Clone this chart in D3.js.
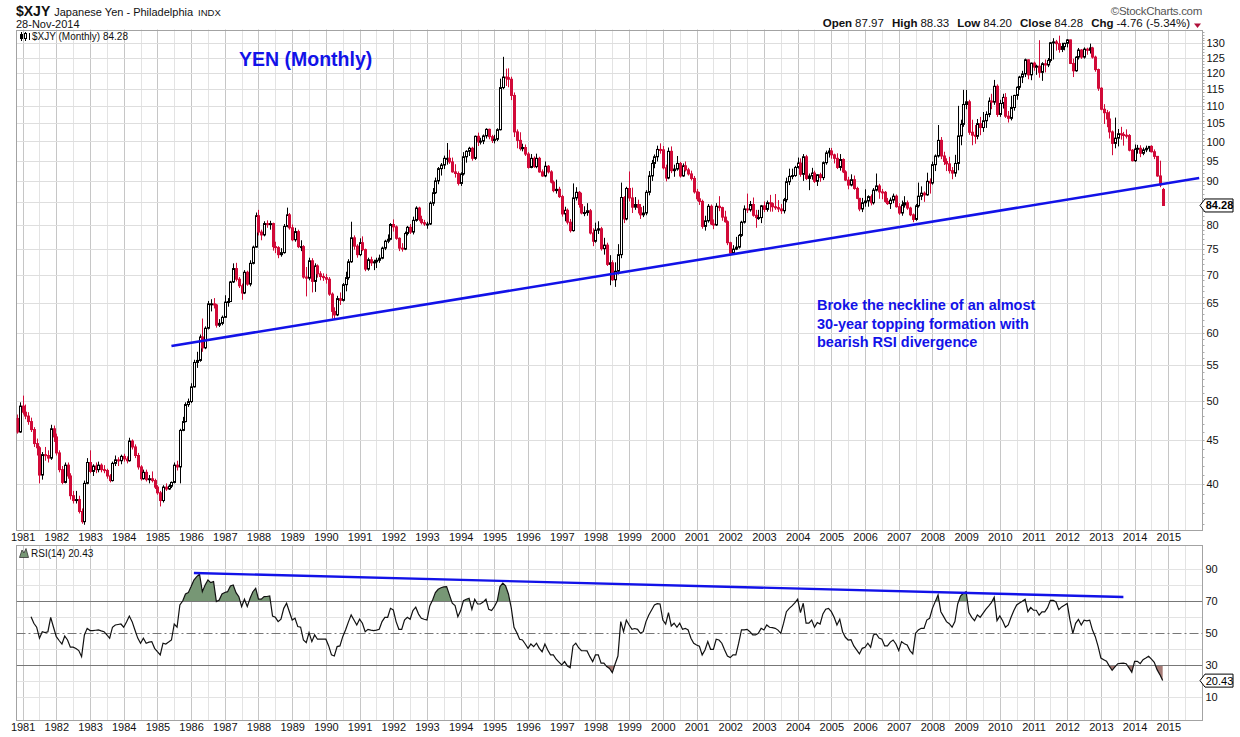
<!DOCTYPE html>
<html>
<head>
<meta charset="utf-8">
<script src="https://cdn.jsdelivr.net/npm/d3@7"></script>
<style>
body { margin: 0; background: #fff; }
svg { display: block; }
text { font-family: "Liberation Sans", Arial, sans-serif; }
</style>
</head>
<body>
<svg id="chart" width="1240" height="737"></svg>
<script>
// monthly bars, first bar = Nov 1980, last bar = Nov 2014
const firstBar = "1980-11";

const opens = [
  47.7, 46.0,
  49.3, 48.5, 48.0, 47.3, 46.3, 44.6, 44.1, 41.0, 43.3, 43.2, 42.9, 46.4,
  45.4, 43.5, 41.6, 40.2, 42.1, 40.9, 38.8, 38.3, 38.4, 37.2, 36.2, 40.1,
  42.4, 41.4, 42.0, 41.6, 42.1, 41.6, 41.5, 40.9, 40.4, 42.3, 42.7, 42.6,
  43.1, 42.8, 42.6, 44.9, 44.2, 43.2, 41.9, 40.6, 41.3, 40.5, 40.6, 40.4,
  39.7, 39.1, 38.3, 39.7, 39.5, 39.8, 40.2, 42.1, 41.9, 46.2, 47.3, 49.5,
  49.9, 51.9, 55.4, 55.7, 59.3, 57.6, 60.7, 64.8, 64.8, 64.6, 61.2, 61.5,
  62.5, 65.1, 65.2, 68.7, 71.2, 69.2, 68.0, 66.7, 70.5, 68.3, 72.2, 75.4,
  82.0, 78.5, 77.9, 80.3, 80.1, 80.3, 75.5, 75.3, 73.9, 74.3, 79.7, 82.2,
  79.4, 76.9, 78.6, 75.5, 75.5, 69.6, 69.4, 72.7, 68.8, 71.7, 70.2, 69.7,
  69.5, 69.2, 66.5, 63.5, 62.9, 65.7, 65.4, 68.2, 69.5, 72.5, 77.3, 75.6,
  73.9, 76.3, 74.9, 71.1, 72.9, 72.3, 72.5, 72.8, 73.2, 75.2, 76.6, 77.0,
  80.1, 79.6, 77.2, 75.2, 75.0, 78.2, 79.5, 78.5, 81.0, 83.7, 81.2, 80.5,
  80.2, 80.2, 84.8, 87.2, 90.0, 93.0, 93.9, 95.6, 95.6, 94.7, 92.2, 91.8,
  89.4, 91.7, 96.0, 97.4, 98.2, 95.6, 101.4, 99.9, 100.1, 101.5, 103.3, 101.3,
  100.3, 100.6, 103.2, 115.5, 118.8, 118.6, 118.1, 113.1, 102.6, 100.3, 98.1, 98.4,
  96.7, 93.3, 95.6, 93.5, 95.6, 92.2, 91.2, 93.6, 92.2, 89.7, 87.7, 88.0,
  86.3, 82.4, 83.2, 80.6, 78.8, 86.0, 87.3, 84.5, 82.6, 82.7, 83.1, 78.3,
  76.6, 78.9, 79.2, 75.1, 75.8, 72.0, 72.3, 69.1, 70.7, 73.9, 86.1, 81.3,
  88.2, 86.0, 83.9, 84.5, 83.8, 82.2, 82.6, 87.3, 91.2, 94.3, 96.0, 97.9,
  97.8, 93.2, 90.7, 97.4, 92.5, 92.9, 94.3, 91.2, 93.7, 92.7, 91.7, 90.6,
  87.4, 85.8, 85.2, 79.7, 80.9, 84.1, 80.2, 80.0, 84.1, 83.8, 81.7, 80.7,
  76.3, 74.2, 75.0, 75.4, 77.8, 80.6, 83.5, 83.3, 84.5, 82.1, 81.6, 81.6,
  84.2, 83.4, 84.9, 84.7, 84.0, 83.8, 83.5, 83.1, 85.6, 89.8, 91.1, 91.3,
  93.3, 94.4, 91.6, 96.0, 90.6, 91.2, 91.9, 89.9, 91.5, 90.8, 94.5, 97.0,
  97.5, 96.5, 95.6, 93.3, 95.3, 92.2, 90.2, 89.0, 90.3, 88.2, 85.9, 83.5,
  84.9, 85.3, 86.3, 84.9, 87.8, 88.8, 87.4, 87.3, 85.2, 84.7, 85.5, 86.4,
  84.0, 82.6, 84.4, 84.9, 83.7, 82.2, 81.2, 84.2, 86.4, 87.1, 86.7, 89.9,
  89.5, 94.0, 96.2, 100.3, 96.2, 94.8, 94.2, 92.5, 91.9, 94.3, 101.5, 104.7,
  110.4, 111.2, 102.5, 101.7, 101.4, 104.9, 103.8, 105.7, 107.5, 111.4, 111.1, 115.9,
  107.5, 110.7, 112.5, 107.0, 106.4, 109.5, 113.1, 115.6, 118.8, 119.8, 124.4, 119.5,
  123.3, 122.0, 122.3, 120.3, 123.1, 122.7, 124.2, 130.2, 130.5, 129.9, 127.9, 128.9,
  130.0, 131.2, 123.2, 120.8, 125.3, 127.7, 125.3, 128.0, 127.6, 128.4, 125.3, 121.2,
  115.3, 109.0, 108.0, 106.2, 102.6, 99.5, 100.9, 102.1, 101.9, 101.7, 101.6, 97.7,
  95.0, 98.0, 98.2, 96.9, 97.8, 98.2, 98.7, 97.3, 96.1, 91.2, 87.97
];

const highs = [
  48.2, 49.8,
  50.7, 49.5, 48.5, 47.8, 46.6, 45.2, 44.3, 43.6, 44.2, 43.8, 46.9, 46.8,
  45.8, 43.8, 42.0, 42.4, 42.4, 41.2, 39.3, 39.3, 38.8, 37.5, 40.4, 42.9,
  43.8, 42.2, 42.4, 42.5, 42.3, 42.1, 41.7, 41.1, 42.5, 43.2, 43.0, 43.3,
  43.4, 43.1, 45.3, 45.1, 44.5, 43.5, 42.1, 41.6, 41.6, 41.0, 41.4, 40.6,
  39.9, 39.3, 39.9, 40.1, 40.0, 40.3, 42.4, 42.6, 46.4, 47.9, 49.8, 50.3,
  52.4, 55.8, 57.0, 59.7, 62.3, 61.0, 65.3, 65.6, 65.8, 64.8, 62.2, 62.8,
  66.3, 65.8, 68.9, 72.2, 72.3, 69.6, 68.4, 70.9, 70.8, 72.8, 75.7, 82.7,
  83.3, 79.0, 80.8, 81.0, 80.9, 80.5, 76.5, 75.6, 75.2, 80.2, 83.8, 82.6,
  80.1, 79.4, 79.0, 76.8, 75.8, 71.5, 73.3, 73.2, 72.2, 72.0, 70.7, 70.3,
  70.2, 69.6, 66.8, 64.2, 66.2, 66.8, 68.5, 70.6, 73.0, 80.7, 77.8, 76.0,
  77.2, 77.6, 75.1, 73.3, 73.5, 72.9, 73.3, 73.9, 75.5, 76.9, 78.0, 80.4,
  81.2, 79.9, 77.4, 76.2, 78.6, 79.8, 80.2, 81.8, 84.1, 84.0, 82.0, 81.1,
  80.7, 85.2, 88.3, 90.8, 93.4, 94.4, 96.3, 99.6, 97.8, 95.8, 94.1, 92.3,
  92.1, 97.2, 97.7, 98.6, 98.6, 101.6, 102.4, 101.0, 101.9, 103.6, 103.5, 101.8,
  101.8, 103.6, 118.3, 125.4, 121.5, 121.6, 118.9, 114.0, 103.3, 102.5, 99.4, 99.2,
  97.2, 96.7, 96.1, 96.8, 96.0, 92.8, 94.8, 93.9, 92.6, 90.1, 90.3, 88.6,
  86.7, 84.0, 83.6, 81.3, 89.4, 88.5, 87.6, 87.2, 84.1, 84.8, 83.5, 79.3,
  80.5, 80.8, 79.6, 77.3, 76.3, 73.8, 72.8, 72.4, 76.0, 89.6, 86.4, 88.6,
  92.3, 88.4, 86.2, 85.6, 84.6, 84.2, 87.8, 92.4, 95.2, 96.6, 98.9, 99.5,
  98.8, 94.0, 98.4, 98.7, 94.0, 96.2, 94.7, 94.3, 94.8, 93.2, 92.5, 91.2,
  88.1, 87.4, 85.6, 82.0, 84.6, 84.5, 81.2, 84.8, 86.4, 84.0, 83.1, 81.0,
  76.5, 75.8, 77.5, 78.1, 80.9, 84.3, 87.0, 85.3, 86.1, 83.3, 83.3, 84.4,
  85.2, 85.4, 86.7, 85.0, 86.9, 85.5, 84.6, 86.0, 90.8, 93.0, 93.0, 93.7,
  95.8, 95.6, 96.7, 96.5, 91.8, 93.2, 92.5, 91.6, 92.0, 94.8, 97.6, 98.3,
  98.3, 96.8, 96.9, 96.7, 95.6, 92.6, 91.0, 91.6, 91.3, 88.6, 86.0, 86.0,
  88.0, 86.6, 86.8, 88.3, 91.8, 89.3, 88.1, 87.6, 86.0, 86.1, 87.0, 86.8,
  84.8, 85.4, 86.4, 85.4, 84.0, 82.5, 84.6, 89.6, 88.7, 87.5, 92.0, 90.6,
  94.8, 96.6, 104.5, 101.2, 97.3, 95.6, 96.0, 93.4, 96.5, 110.0, 106.0, 114.8,
  114.8, 111.8, 106.0, 104.5, 106.2, 106.8, 108.2, 108.4, 112.5, 113.6, 117.9, 116.5,
  111.8, 113.6, 113.8, 108.5, 113.0, 113.3, 115.9, 119.2, 120.8, 124.8, 124.5, 123.5,
  123.8, 122.8, 131.1, 123.6, 124.5, 125.0, 130.4, 131.8, 131.2, 132.7, 130.2, 130.2,
  131.5, 131.3, 124.8, 125.6, 128.4, 128.0, 128.6, 128.5, 129.9, 128.8, 125.8, 121.5,
  115.6, 110.5, 108.8, 108.4, 103.0, 106.6, 103.4, 104.0, 102.6, 103.3, 102.0, 98.0,
  99.2, 99.1, 99.0, 98.4, 98.9, 98.8, 99.0, 97.9, 96.2, 95.0, 88.33
];

const lows = [
  45.8, 45.9,
  48.2, 47.6, 46.9, 46.0, 44.2, 43.2, 40.1, 40.5, 42.6, 42.4, 42.7, 44.8,
  43.2, 41.3, 40.0, 40.1, 40.6, 38.4, 38.0, 38.0, 37.0, 36.0, 35.9, 40.0,
  41.2, 40.9, 41.2, 41.3, 41.3, 41.2, 40.6, 40.2, 40.3, 42.0, 42.0, 42.2,
  42.5, 42.3, 42.5, 43.9, 42.9, 41.6, 40.4, 40.5, 40.3, 40.1, 40.2, 39.5,
  38.9, 37.7, 38.1, 39.3, 39.4, 39.6, 40.1, 41.5, 40.1, 46.1, 47.2, 49.2,
  49.7, 51.8, 54.6, 55.5, 57.0, 57.4, 60.5, 63.5, 64.0, 60.8, 60.9, 61.2,
  62.4, 64.3, 65.1, 68.5, 68.8, 67.6, 65.5, 66.5, 68.0, 67.9, 72.0, 75.3,
  77.8, 76.8, 77.6, 79.4, 79.0, 74.7, 74.2, 73.2, 73.5, 74.1, 79.5, 79.0,
  76.6, 76.5, 75.2, 74.6, 69.3, 66.1, 69.0, 66.8, 66.9, 69.5, 69.0, 68.9,
  68.4, 66.2, 62.3, 62.1, 62.7, 64.6, 65.2, 67.0, 69.1, 72.3, 74.9, 73.3,
  73.6, 74.6, 70.7, 70.8, 71.7, 70.9, 71.3, 72.3, 73.0, 74.8, 76.2, 76.8,
  78.6, 76.9, 74.6, 74.5, 74.8, 77.8, 78.1, 78.0, 80.7, 80.8, 80.1, 79.8,
  79.2, 80.0, 84.2, 86.9, 89.2, 91.3, 92.9, 94.0, 94.2, 92.0, 90.8, 88.9,
  88.8, 91.3, 94.5, 96.2, 95.0, 95.2, 98.8, 99.2, 99.3, 100.8, 100.6, 99.6,
  99.5, 100.1, 103.0, 115.0, 116.0, 115.6, 111.7, 101.2, 98.2, 97.6, 97.4, 96.2,
  93.0, 93.1, 93.2, 93.1, 92.0, 91.0, 90.9, 91.8, 89.4, 87.3, 87.0, 86.0,
  81.8, 80.8, 80.1, 78.4, 78.6, 85.4, 83.8, 82.3, 81.9, 82.0, 78.0, 75.6,
  76.3, 78.1, 74.7, 73.9, 71.7, 68.1, 68.9, 67.8, 70.1, 73.2, 80.4, 81.0,
  85.2, 82.6, 83.3, 82.5, 81.3, 81.7, 82.1, 86.6, 90.0, 93.1, 94.8, 96.8,
  92.8, 89.9, 90.4, 91.9, 91.0, 92.5, 90.8, 91.0, 92.3, 91.3, 90.1, 87.0,
  85.3, 84.4, 79.2, 78.8, 80.5, 80.0, 79.1, 79.8, 83.0, 80.9, 80.5, 75.8,
  73.9, 73.9, 74.8, 75.1, 77.5, 80.3, 82.6, 82.9, 81.8, 79.4, 81.1, 80.4,
  82.8, 82.9, 82.9, 82.9, 83.3, 82.8, 82.4, 82.5, 85.0, 89.0, 90.4, 91.0,
  93.0, 91.0, 90.0, 90.2, 87.8, 90.3, 89.5, 88.8, 89.8, 90.2, 94.0, 95.8,
  95.5, 94.3, 92.9, 92.5, 91.9, 90.0, 88.0, 88.7, 87.9, 85.7, 83.0, 82.8,
  84.0, 84.0, 84.3, 84.5, 87.5, 85.8, 85.7, 84.9, 84.4, 83.5, 84.8, 83.8,
  82.2, 82.0, 83.8, 83.3, 81.9, 80.6, 80.9, 83.8, 85.5, 85.1, 86.5, 87.0,
  89.1, 92.4, 95.8, 95.4, 93.9, 92.4, 91.8, 90.4, 91.0, 92.6, 99.0, 104.0,
  109.0, 101.8, 99.0, 99.4, 100.6, 101.7, 102.6, 103.7, 106.7, 109.0, 110.3, 106.8,
  106.8, 109.2, 106.5, 105.2, 105.8, 108.6, 111.8, 114.8, 116.9, 118.8, 118.1, 117.8,
  120.8, 119.5, 118.6, 117.6, 120.3, 122.0, 123.5, 124.5, 127.5, 126.8, 127.0, 127.6,
  128.6, 123.0, 118.8, 120.5, 124.5, 124.7, 124.8, 126.1, 126.5, 124.8, 120.5, 114.5,
  108.7, 104.8, 103.9, 100.8, 96.4, 98.2, 98.7, 100.5, 98.9, 100.8, 97.4, 94.8,
  94.7, 96.8, 95.9, 96.4, 97.2, 97.3, 97.1, 95.4, 91.0, 88.5, 84.20
];

const closes = [
  46.0, 49.3,
  48.5, 48.0, 47.3, 46.3, 44.6, 44.1, 41.0, 43.3, 43.2, 42.9, 46.4, 45.4,
  43.5, 41.6, 40.2, 42.1, 40.9, 38.8, 38.3, 38.4, 37.2, 36.2, 40.1, 42.4,
  41.4, 42.0, 41.6, 42.1, 41.6, 41.5, 40.9, 40.4, 42.3, 42.7, 42.6, 43.1,
  42.8, 42.6, 44.9, 44.2, 43.2, 41.9, 40.6, 41.3, 40.5, 40.6, 40.4, 39.7,
  39.1, 38.3, 39.7, 39.5, 39.8, 40.2, 42.1, 41.9, 46.2, 47.3, 49.5, 49.9,
  51.9, 55.4, 55.7, 59.3, 57.6, 60.7, 64.8, 64.8, 64.6, 61.2, 61.5, 62.5,
  65.1, 65.2, 68.7, 71.2, 69.2, 68.0, 66.7, 70.5, 68.3, 72.2, 75.4, 82.0,
  78.5, 77.9, 80.3, 80.1, 80.3, 75.5, 75.3, 73.9, 74.3, 79.7, 82.2, 79.4,
  76.9, 78.6, 75.5, 75.5, 69.6, 69.4, 72.7, 68.8, 71.7, 70.2, 69.7, 69.5,
  69.2, 66.5, 63.5, 62.9, 65.7, 65.4, 68.2, 69.5, 72.5, 77.3, 75.6, 73.9,
  76.3, 74.9, 71.1, 72.9, 72.3, 72.5, 72.8, 73.2, 75.2, 76.6, 77.0, 80.1,
  79.6, 77.2, 75.2, 75.0, 78.2, 79.5, 78.5, 81.0, 83.7, 81.2, 80.5, 80.2,
  80.2, 84.8, 87.2, 90.0, 93.0, 93.9, 95.6, 95.6, 94.7, 92.2, 91.8, 89.4,
  91.7, 96.0, 97.4, 98.2, 95.6, 101.4, 99.9, 100.1, 101.5, 103.3, 101.3, 100.3,
  100.6, 103.2, 115.5, 118.8, 118.6, 118.1, 113.1, 102.6, 100.3, 98.1, 98.4, 96.7,
  93.3, 95.6, 93.5, 95.6, 92.2, 91.2, 93.6, 92.2, 89.7, 87.7, 88.0, 86.3,
  82.4, 83.2, 80.6, 78.8, 86.0, 87.3, 84.5, 82.6, 82.7, 83.1, 78.3, 76.6,
  78.9, 79.2, 75.1, 75.8, 72.0, 72.3, 69.1, 70.7, 73.9, 86.1, 81.3, 88.2,
  86.0, 83.9, 84.5, 83.8, 82.2, 82.6, 87.3, 91.2, 94.3, 96.0, 97.9, 97.8,
  93.2, 90.7, 97.4, 92.5, 92.9, 94.3, 91.2, 93.7, 92.7, 91.7, 90.6, 87.4,
  85.8, 85.2, 79.7, 80.9, 84.1, 80.2, 80.0, 84.1, 83.8, 81.7, 80.7, 76.3,
  74.2, 75.0, 75.4, 77.8, 80.6, 83.5, 83.3, 84.5, 82.1, 81.6, 81.6, 84.2,
  83.4, 84.9, 84.7, 84.0, 83.8, 83.5, 83.1, 85.6, 89.8, 91.1, 91.3, 93.3,
  94.4, 91.6, 96.0, 90.6, 91.2, 91.9, 89.9, 91.5, 90.8, 94.5, 97.0, 97.5,
  96.5, 95.6, 93.3, 95.3, 92.2, 90.2, 89.0, 90.3, 88.2, 85.9, 83.5, 84.9,
  85.3, 86.3, 84.9, 87.8, 88.8, 87.4, 87.3, 85.2, 84.7, 85.5, 86.4, 84.0,
  82.6, 84.4, 84.9, 83.7, 82.2, 81.2, 84.2, 86.4, 87.1, 86.7, 89.9, 89.5,
  94.0, 96.2, 100.3, 96.2, 94.8, 94.2, 92.5, 91.9, 94.3, 101.5, 104.7, 110.4,
  111.2, 102.5, 101.7, 101.4, 104.9, 103.8, 105.7, 107.5, 111.4, 111.1, 115.9, 107.5,
  110.7, 112.5, 107.0, 106.4, 109.5, 113.1, 115.6, 118.8, 119.8, 124.4, 119.5, 123.3,
  122.0, 122.3, 120.3, 123.1, 122.7, 124.2, 130.2, 130.5, 129.9, 127.9, 128.9, 130.0,
  131.2, 123.2, 120.8, 125.3, 127.7, 125.3, 128.0, 127.6, 128.4, 125.3, 121.2, 115.3,
  109.0, 108.0, 106.2, 102.6, 99.5, 100.9, 102.1, 101.9, 101.7, 101.6, 97.7, 95.0,
  98.0, 98.2, 96.9, 97.8, 98.2, 98.7, 97.3, 96.1, 91.2, 89.04, 84.28
];

// RSI(14), one value per bar
const rsiValues = [
  null, null,
  null, null, null, 60.4, 56.3, 53.8, 46.9, 51, 50.4, 51, 60, 53.8,
  47.9, 45.5, 43.3, 48.3, 45.8, 41.3, 41.3, 40.5, 39.2, 35.4, 49, 53.1,
  51.7, 51.7, 51.9, 52.1, 51.5, 51, 49, 46.9, 53.8, 55.2, 55.5, 55.8,
  53.8, 57, 60.8, 57.3, 52.1, 47, 43.8, 46.9, 43.8, 44.5, 44.8, 40.6,
  38.5, 36.5, 43.8, 43.3, 44.5, 45.8, 55.8, 53.8, 67.7, 70.2, 74.6, 75.4,
  79.2, 83.3, 85.4, 86.9, 76, 80.2, 83.3, 81.7, 82.3, 69.8, 70.8, 74.6,
  75.5, 76, 79.6, 80.2, 75.4, 72.9, 66.7, 71.3, 66.7, 71.9, 76, 78.1,
  71.3, 71.3, 72.9, 73, 73.3, 60.8, 60, 57.3, 58.8, 65.6, 68.8, 63.5,
  58.3, 59.4, 54.2, 53.8, 45.8, 44.2, 50.4, 44.8, 49, 46.3, 46.3, 46.3,
  46.3, 42.1, 36.5, 35.8, 41.7, 42.1, 47.9, 52.1, 57, 61.5, 58.3, 55.2,
  58.8, 56.3, 51, 52.5, 52, 51.7, 52, 52.5, 57.3, 60, 60, 65.6,
  64.6, 57.3, 52.5, 52.5, 58.3, 60, 58.8, 64.2, 66.3, 62, 59.4, 58.8,
  58.3, 67.1, 70.8, 75.4, 77.5, 78.5, 79, 79.2, 74, 68.8, 67.3, 60.4,
  64.2, 70.4, 71.3, 71.9, 65, 71.3, 68.3, 68.3, 69.5, 71.3, 65, 64.2,
  66.7, 70, 79.2, 81.3, 79.6, 74.6, 66, 53.8, 50.4, 46.3, 45.8, 43.3,
  40.6, 43.3, 41.7, 43.8, 40.6, 38.5, 43.3, 39.6, 36.5, 36.5, 33.8, 32,
  30.2, 32.3, 29.6, 28.5, 42.1, 43.8, 41, 39.2, 39.1, 39, 35.4, 32.3,
  36.5, 36.5, 31.3, 31.3, 29.2, 28, 25.4, 30.8, 35.8, 57.3, 51, 58.3,
  55.2, 52.5, 53, 52.5, 50, 51, 57.3, 61.5, 64.6, 67.7, 68.5, 68.3,
  58.3, 55.8, 62.9, 54.6, 56.3, 53.8, 56.3, 52.5, 53.1, 52.1, 46.9, 43.8,
  42.7, 42.0, 36.5, 39.6, 44.8, 40, 40, 46.3, 45.8, 43.8, 39.6, 35.8,
  34.8, 36.5, 36.5, 43.8, 52.1, 52.1, 52.5, 51, 49, 49, 50, 53.1,
  52.1, 55.2, 53.8, 53.5, 53.1, 52, 50, 56.3, 63.5, 65.6, 67.1, 69,
  71.3, 62.9, 68.8, 56.3, 56.3, 58.3, 53.8, 56.7, 55.8, 62.1, 65, 65.6,
  63.5, 60, 55.2, 58.8, 51, 47.5, 45.8, 46, 42.1, 39.6, 37.1, 40.6,
  41.3, 43.8, 41.3, 49, 49.6, 47, 46.3, 42.1, 42.1, 44.5, 45.8, 43.3,
  39.2, 44.8, 43.5, 42.7, 39.2, 37.1, 50, 52.1, 53.1, 53.1, 58.3, 59.4,
  65.6, 69.8, 74, 63.5, 60.4, 57.3, 56, 53.8, 57.3, 68.3, 73.3, 75,
  76, 63, 60, 57.9, 61.5, 60, 62.5, 65, 67, 69.2, 72.5, 57.9,
  60.8, 57.9, 53.8, 55.2, 60, 64.2, 67.7, 69, 70, 71.3, 63.5, 66.1,
  64.4, 64.4, 61.3, 63.4, 63.4, 66, 70.6, 70.6, 69.6, 64.8, 66.5, 67.5,
  68.6, 58.2, 50, 56.2, 58.7, 55.2, 58.2, 57.8, 58.2, 52, 47.9, 41.8,
  34.5, 33.5, 32.5, 29.5, 26.9, 29, 31, 31.2, 31.4, 31, 28.4, 25.7,
  32.5, 32.5, 31, 33.5, 34.5, 35.6, 33.9, 31.9, 27.3, 24.2, 20.43
];

const years = d3.range(1981, 2016);
const priceTicks = [40, 45, 50, 55, 60, 65, 70, 75, 80, 85, 90, 95, 100, 105, 110, 115, 120, 125, 130];
const rsiTicks = [10, 30, 50, 70, 90];
const rsiGrid = [10, 20, 30, 40, 50, 60, 70, 80, 90];
const necklinePts = [["1985-06", 57.9], ["2015-12", 90.7]];
const rsiTrendPts = [["1986-02", 87.7], ["2013-09", 72.7]];
const noteLines = ["Broke the neckline of an almost", "30-year topping formation with", "bearish RSI divergence"];

// ---------------------------------------------------------------

const svg = d3.select("#chart");
const RED = "#d10a38", BLUE = "#1212e8";
const L = 16.5, R = 1202.5;
const mainTop = 29.5, mainBottom = 530;
const rsiTop = 545, rsiBottom = 720;

const barOf = s => { const [yy, mm] = s.split("-").map(Number); return (yy - 1980) * 12 + mm - 11; };
const bars = d3.range(closes.length);
const lastClose = closes[closes.length - 1];
const lastRsi = rsiValues[rsiValues.length - 1];

const x = d3.scaleLinear().domain([0, 422]).range([17, 1202]);
const y = d3.scaleLog().domain([35.4, 134.9]).range([mainBottom, mainTop]);
const yr = d3.scaleLinear().domain([0, 100]).range([713.3, 553.3]);

const defs = svg.append("defs");
defs.append("clipPath").attr("id", "clipMain").append("rect")
  .attr("x", L).attr("y", mainTop).attr("width", R - L).attr("height", mainBottom - mainTop);
defs.append("clipPath").attr("id", "clipRsi").append("rect")
  .attr("x", L).attr("y", rsiTop).attr("width", R - L).attr("height", rsiBottom - rsiTop);
defs.append("clipPath").attr("id", "clipOver").append("rect")
  .attr("x", L).attr("y", rsiTop).attr("width", R - L).attr("height", yr(70) - rsiTop);
defs.append("clipPath").attr("id", "clipUnder").append("rect")
  .attr("x", L).attr("y", yr(30)).attr("width", R - L).attr("height", rsiBottom - yr(30));

// vertical grid: year lines and half-year lines
const gridBars = d3.range(-4, 423, 6);
function vGrid(top, bottom) {
  svg.append("g").selectAll("line").data(gridBars.filter(b => b > 0 && b < 422)).join("line")
    .attr("x1", b => Math.round(x(b)) + 0.5).attr("x2", b => Math.round(x(b)) + 0.5)
    .attr("y1", top).attr("y2", bottom)
    .attr("stroke", b => ((b - 2) % 12 === 0) ? "#c6c6c6" : "#e3e3e3")
    .attr("stroke-width", 1);
}
vGrid(mainTop, mainBottom);
vGrid(rsiTop, rsiBottom);

svg.append("g").selectAll("line").data(priceTicks).join("line")
  .attr("x1", L).attr("x2", R)
  .attr("y1", d => Math.round(y(d)) + 0.5).attr("y2", d => Math.round(y(d)) + 0.5)
  .attr("stroke", "#dedede");

svg.append("g").selectAll("line").data(rsiGrid.filter(d => d !== 30 && d !== 50 && d !== 70)).join("line")
  .attr("x1", L).attr("x2", R)
  .attr("y1", d => Math.round(yr(d)) + 0.5).attr("y2", d => Math.round(yr(d)) + 0.5)
  .attr("stroke", "#e3e3e3");

// panel frames
[[mainTop, mainBottom], [rsiTop, rsiBottom]].forEach(([t, b]) => {
  svg.append("rect").attr("x", L).attr("y", Math.round(t) + 0.5).attr("width", R - L).attr("height", b - Math.round(t))
    .attr("fill", "none").attr("stroke", "#a3a3a3");
});

// candles
const gC = svg.append("g").attr("clip-path", "url(#clipMain)");
bars.forEach(i => {
  const o = opens[i], h = highs[i], l = lows[i], c = closes[i];
  const prev = i > 0 ? closes[i - 1] : o;
  const col = c >= prev ? "#000" : RED;
  const cx = Math.round(x(i)) + 0.5;
  gC.append("line").attr("x1", cx).attr("x2", cx).attr("y1", y(h)).attr("y2", y(l))
    .attr("stroke", col).attr("stroke-width", 1);
  const top = y(Math.max(o, c)), bot = y(Math.min(o, c));
  const hgt = Math.max(bot - top, 1);
  if (c > o) {
    gC.append("rect").attr("x", cx - 1).attr("y", top).attr("width", 2).attr("height", hgt)
      .attr("fill", "#fff").attr("stroke", col).attr("stroke-width", 1);
  } else {
    gC.append("rect").attr("x", cx - 1.5).attr("y", top - 0.5).attr("width", 3).attr("height", hgt + 1)
      .attr("fill", col);
  }
});

// neckline
gC.append("line")
  .attr("x1", x(barOf(necklinePts[0][0]))).attr("y1", y(necklinePts[0][1]))
  .attr("x2", x(barOf(necklinePts[1][0]))).attr("y2", y(necklinePts[1][1]))
  .attr("stroke", BLUE).attr("stroke-width", 2.6);

// RSI panel
const gR = svg.append("g").attr("clip-path", "url(#clipRsi)");
const rsiData = bars.map(i => ({ i, v: rsiValues[i] })).filter(d => d.v != null);
gR.append("path").datum(rsiData).attr("clip-path", "url(#clipOver)")
  .attr("d", d3.area().x(d => x(d.i)).y0(yr(70)).y1(d => yr(d.v)))
  .attr("fill", "#779775");
gR.append("path").datum(rsiData).attr("clip-path", "url(#clipUnder)")
  .attr("d", d3.area().x(d => x(d.i)).y0(yr(30)).y1(d => yr(d.v)))
  .attr("fill", "#a67b76");

[70, 30].forEach(v => {
  gR.append("line").attr("x1", L).attr("x2", R)
    .attr("y1", Math.round(yr(v)) + 0.5).attr("y2", Math.round(yr(v)) + 0.5)
    .attr("stroke", "#777").attr("stroke-width", 1);
});
gR.append("line").attr("x1", L).attr("x2", R)
  .attr("y1", Math.round(yr(50)) + 0.5).attr("y2", Math.round(yr(50)) + 0.5)
  .attr("stroke", "#777").attr("stroke-dasharray", "9,3,2,3");

gR.append("path").datum(rsiData)
  .attr("d", d3.line().x(d => x(d.i)).y(d => yr(d.v)))
  .attr("fill", "none").attr("stroke", "#111").attr("stroke-width", 1.2);

gR.append("line")
  .attr("x1", x(barOf(rsiTrendPts[0][0]))).attr("y1", yr(rsiTrendPts[0][1]))
  .attr("x2", x(barOf(rsiTrendPts[1][0]))).attr("y2", yr(rsiTrendPts[1][1]))
  .attr("stroke", BLUE).attr("stroke-width", 2.4);

// axes
const yearBars = years.map(yy => (yy - 1980) * 12 - 10);
function xAxis(ty) {
  const g = svg.append("g").attr("transform", `translate(0,${ty})`)
    .call(d3.axisBottom(x).tickValues(yearBars).tickSize(0).tickPadding(0)
      .tickFormat(b => String(1980 + (b + 10) / 12)));
  g.select(".domain").remove();
  g.selectAll("text").attr("font-size", 11).attr("fill", "#111")
    .attr("font-family", "Liberation Sans, Arial, sans-serif");
}
xAxis(533);
xAxis(723);

// price labels hidden where the last-value tag sits, as on the original
const priceLabels = priceTicks.filter(d => Math.abs(y(d) - y(lastClose)) > 9);
const gy = svg.append("g").attr("transform", `translate(${R},0)`)
  .call(d3.axisRight(y).tickValues(priceLabels).tickSize(0).tickPadding(4).tickFormat(d3.format("d")));
gy.select(".domain").remove();
gy.selectAll("text").attr("font-size", 11).attr("fill", "#111")
  .attr("font-family", "Liberation Sans, Arial, sans-serif");

// small minor ticks along the price axis
svg.append("g").selectAll("line").data(d3.range(36, 135)).join("line")
  .attr("x1", R).attr("x2", R + 2)
  .attr("y1", d => Math.round(y(d)) + 0.5).attr("y2", d => Math.round(y(d)) + 0.5)
  .attr("stroke", "#aaa");

const gyr = svg.append("g").attr("transform", `translate(${R},0)`)
  .call(d3.axisRight(yr).tickValues(rsiTicks).tickSize(0).tickPadding(3));
gyr.select(".domain").remove();
gyr.selectAll("text").attr("font-size", 11).attr("fill", "#111")
  .attr("font-family", "Liberation Sans, Arial, sans-serif");

// last value tags
function tag(yv, label, bold) {
  const x0 = 1200, w = 33, hh = 6.5;
  svg.append("path")
    .attr("d", `M${x0},${yv} L${x0 + 5},${yv - hh} L${x0 + w},${yv - hh} L${x0 + w},${yv + hh} L${x0 + 5},${yv + hh} Z`)
    .attr("fill", "#fff").attr("stroke", "#000").attr("stroke-width", 1);
  svg.append("text").attr("x", x0 + 19.5).attr("y", yv + 4).attr("text-anchor", "middle")
    .attr("font-size", 11).attr("font-weight", bold ? "bold" : "normal").attr("fill", "#000")
    .text(label);
}
tag(y(lastClose), d3.format(".2f")(lastClose), true);
tag(yr(lastRsi), d3.format(".2f")(lastRsi), false);

// header
const hdr = svg.append("text").attr("x", 16).attr("y", 16).attr("fill", "#111");
hdr.append("tspan").attr("font-size", 14).attr("font-weight", "bold").text("$XJY");
hdr.append("tspan").attr("font-size", 11).attr("dx", 4).text("Japanese Yen - Philadelphia");
hdr.append("tspan").attr("font-size", 9.5).attr("dx", 5).text("INDX");
svg.append("text").attr("x", 16).attr("y", 27.5).attr("font-size", 11).attr("fill", "#111").text("28-Nov-2014");

svg.append("text").attr("x", 1202).attr("y", 14.5).attr("text-anchor", "end")
  .attr("font-size", 11.5).attr("fill", "#555").attr("font-family", "DejaVu Sans, sans-serif")
  .attr("letter-spacing", -0.3).text("\u00a9StockCharts.com");

const ohlc = svg.append("text").attr("x", 1190).attr("y", 27).attr("text-anchor", "end")
  .attr("font-size", 11.5).attr("fill", "#111");
[["Open", "87.97"], ["High", "88.33"], ["Low", "84.20"], ["Close", "84.28"], ["Chg", "-4.76 (-5.34%)"]]
  .forEach(([k, v], j) => {
    ohlc.append("tspan").attr("font-weight", "bold").attr("dx", j ? 8 : 0).text(k);
    ohlc.append("tspan").attr("dx", 3).text(v);
  });
svg.append("path").attr("d", "M1194,23.5 L1201,23.5 L1197.5,28 Z").attr("fill", "#b0103a");

// legends
const lg = svg.append("g");
lg.append("line").attr("x1", 21.5).attr("x2", 21.5).attr("y1", 32).attr("y2", 41).attr("stroke", "#000");
lg.append("rect").attr("x", 20).attr("y", 34).attr("width", 3).attr("height", 5).attr("fill", "#000");
lg.append("line").attr("x1", 25.5).attr("x2", 25.5).attr("y1", 32).attr("y2", 41).attr("stroke", "#000");
lg.append("rect").attr("x", 24.5).attr("y", 33.5).attr("width", 2).attr("height", 5).attr("fill", "#fff").attr("stroke", "#000");
lg.append("line").attr("x1", 29.5).attr("x2", 29.5).attr("y1", 33).attr("y2", 40).attr("stroke", "#000");
lg.append("text").attr("x", 32).attr("y", 40).attr("font-family", "DejaVu Sans Mono, monospace")
  .attr("font-size", 10).attr("fill", "#111").text("$XJY (Monthly) 84.28");

lg.append("path").attr("d", "M19.5,557.5 L22,550 L24,553 L26,548.5 L28.5,557.5 Z")
  .attr("fill", "#779775").attr("stroke", "#333").attr("stroke-width", 0.8);
lg.append("text").attr("x", 31).attr("y", 556.5).attr("font-family", "DejaVu Sans Mono, monospace")
  .attr("font-size", 10).attr("fill", "#111").text("RSI(14) 20.43");

// annotations
svg.append("text").attr("x", 239).attr("y", 66).attr("font-size", 19.5).attr("font-weight", "bold")
  .attr("fill", BLUE).text("YEN (Monthly)");
svg.append("g").selectAll("text").data(noteLines).join("text")
  .attr("x", 817).attr("y", (d, j) => 310 + j * 18.5)
  .attr("font-size", 14.5).attr("font-weight", "bold").attr("fill", BLUE)
  .text(d => d);
</script>
</body>
</html>
